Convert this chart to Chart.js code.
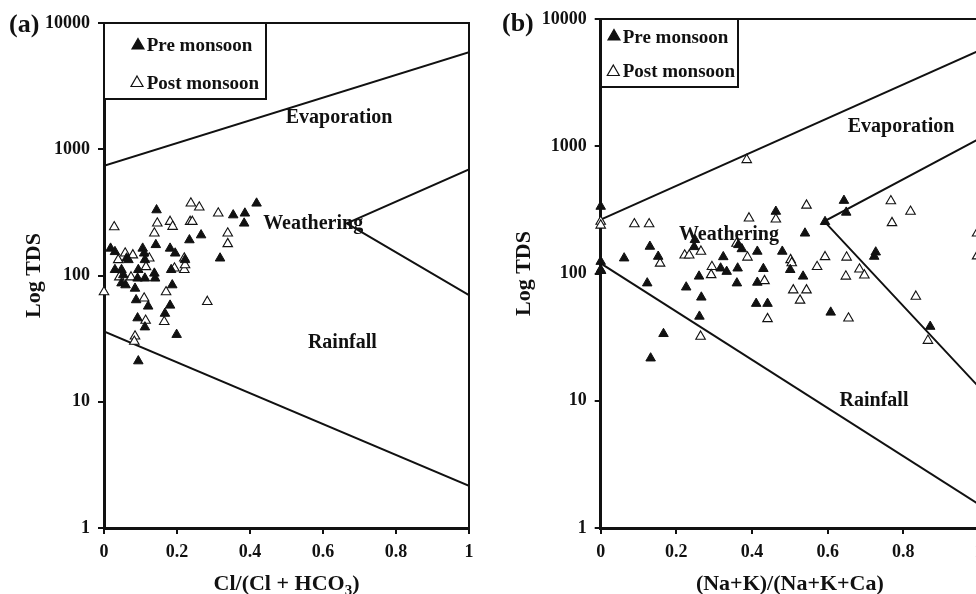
<!DOCTYPE html>
<html>
<head>
<meta charset="utf-8">
<title>Gibbs diagrams</title>
<script src="https://cdn.jsdelivr.net/npm/chart.js@4.4.1/dist/chart.umd.min.js"></script>
<style>
  html, body { margin: 0; padding: 0; background: #fff; overflow: hidden; width: 976px; height: 594px; }
  .panel { position: absolute; top: 0; }
  #wrapA { left: 0; }
  #wrapB { left: 490px; }
</style>
</head>
<body>
<div id="wrapA" class="panel"><canvas id="chartA" width="490" height="594"></canvas></div>
<div id="wrapB" class="panel"><canvas id="chartB" width="530" height="594"></canvas></div>
<script>
// --- DATA, [ratio, TDS] ---
const yTicks = [1, 10, 100, 1000, 10000];
const xTicks = [0, 0.2, 0.4, 0.6, 0.8, 1];
const seriesNames = ['Pre monsoon', 'Post monsoon'];
const regionNames = ['Evaporation', 'Weathering', 'Rainfall'];

// (a) Cl/(Cl + HCO3)
const preA = [[0.144,330],[0.142,175],[0.018,164],[0.030,154],[0.062,137],[0.067,133],[0.106,164],[0.110,150],
  [0.112,133],[0.030,111],[0.048,111],[0.094,111],[0.092,95],[0.112,95],[0.138,104],[0.140,95],[0.181,164],
  [0.195,150],[0.184,111],[0.187,84],[0.048,87],[0.059,84],[0.085,79],[0.088,64],[0.121,57],[0.181,58],
  [0.167,50],[0.092,46],[0.112,39],[0.199,34],[0.094,21],[0.234,191],[0.266,209],[0.222,133],[0.354,301],
  [0.386,311],[0.384,259],[0.418,373],[0.318,137],[0.053,101]];
const postA = [[0.238,373],[0.261,347],[0.028,242],[0.146,259],[0.138,216],[0.181,267],[0.188,244],[0.236,267],
  [0.242,267],[0.058,150],[0.079,145],[0.124,137],[0.039,133],[0.115,117],[0.193,114],[0.220,137],[0.220,111],
  [0.042,97],[0.074,97],[0.0,74],[0.170,74],[0.110,66],[0.165,43],[0.114,44],[0.085,33],[0.083,30],[0.283,62],
  [0.313,311],[0.339,216],[0.339,178],[0.222,121]];
const evapLineA = [[0,740],[1,5860]];
const weatherLineA = [[1,693],[0.665,259],[1,70]];
const rainLineA = [[0,36],[1,2.16]];
const regionPosA = [[0.644,1768],[0.573,256],[0.653,29.4]];

// (b) (Na+K)/(Na+K+Ca)
const preB = [[0,336],[0,124],[0,107],[0.062,132],[0.130,163],[0.152,136],[0.123,84],[0.226,78],[0.260,95],
  [0.266,65],[0.261,46],[0.166,33.6],[0.132,21.6],[0.249,184],[0.247,162],[0.324,135],[0.317,110],[0.333,103.5],
  [0.362,110],[0.360,84],[0.364,168],[0.373,156],[0.414,149],[0.430,109],[0.414,85],[0.480,149],[0.501,107],
  [0.535,95],[0.411,58],[0.441,58],[0.608,49.5],[0.463,307],[0.540,207],[0.643,374],[0.649,302],[0.593,255],
  [0.727,147],[0.723,136],[0.871,38.3]];
const postB = [[0,256],[0,239],[0,105],[0.089,245],[0.128,245],[0.157,120],[0.222,139],[0.234,139],[0.265,149],
  [0.294,113],[0.292,97.5],[0.264,32],[0.386,782],[0.392,272],[0.463,267],[0.544,343],[0.388,134],[0.359,172],
  [0.433,87.5],[0.502,128],[0.505,121],[0.572,113],[0.593,135],[0.509,74],[0.544,74],[0.527,61.5],[0.441,44],
  [0.767,371],[0.819,307],[0.770,250],[0.650,134],[0.684,108],[0.697,97],[0.648,95],[0.655,44.5],[0.833,66],
  [0.865,29.7],[0.995,207],[0.995,137]];
const evapLineB = [[0,265],[1,5650]];
const weatherLineB = [[1,1143],[0.591,257],[1,12.8]];
const rainLineB = [[0,120],[1,1.53]];
const regionPosB = [[0.794,1420],[0.339,201],[0.7225,10]];

const FONT = '"Liberation Serif", "Times New Roman", Times, serif';
const INK = '#111';

const toPts = arr => arr.map(p => ({ x: p[0], y: p[1] }));

// Teks region, legend kotak, bingkai atas/kanan dan judul sumbu x
const gibbsPlugin = {
  id: 'gibbs',
  beforeDatasetsDraw(chart, args, opts) {
    const ctx = chart.ctx, xs = chart.scales.x, ys = chart.scales.y;
    ctx.save();
    ctx.fillStyle = INK;
    ctx.font = 'bold 20px ' + FONT;
    ctx.textAlign = 'center';
    ctx.textBaseline = 'middle';
    opts.regions.forEach((r, i) => {
      ctx.fillText(regionNames[i], xs.getPixelForValue(r[0]), ys.getPixelForValue(r[1]));
    });
    ctx.restore();
  },
  afterDraw(chart, args, opts) {
    const ctx = chart.ctx, a = chart.chartArea;
    ctx.save();
    ctx.strokeStyle = INK;
    ctx.fillStyle = INK;

    // frame top + right
    ctx.lineWidth = 2;
    ctx.beginPath();
    ctx.moveTo(a.left, a.top);
    ctx.lineTo(a.right, a.top);
    ctx.lineTo(a.right, a.bottom);
    ctx.stroke();

    // legend box
    const L = opts.legend;
    ctx.fillStyle = '#fff';
    ctx.fillRect(L.box[0], L.box[1], L.box[2], L.box[3]);
    ctx.strokeRect(L.box[0], L.box[1], L.box[2], L.box[3]);
    L.rows.forEach((row, i) => {
      const [mx, my] = row.marker;
      ctx.beginPath();
      ctx.moveTo(mx, my - 5.5);
      ctx.lineTo(mx + 6, my + 5);
      ctx.lineTo(mx - 6, my + 5);
      ctx.closePath();
      ctx.lineWidth = 1.2;
      if (i === 0) { ctx.fillStyle = INK; ctx.fill(); }
      ctx.stroke();
      ctx.fillStyle = INK;
      ctx.font = 'bold 19px ' + FONT;
      ctx.textAlign = 'left';
      ctx.textBaseline = 'alphabetic';
      ctx.fillText(seriesNames[i], row.text[0], row.text[1]);
    });

    // panel label
    ctx.font = 'bold 26px ' + FONT;
    ctx.textAlign = 'left';
    ctx.fillText(opts.panel.text, opts.panel.x, opts.panel.y);

    // x title (with subscript part)
    const big = 'bold 22px ' + FONT, small = 'bold 15px ' + FONT;
    let total = 0;
    opts.xTitle.forEach(p => { ctx.font = p.sub ? small : big; total += ctx.measureText(p.t).width; });
    let x = (a.left + a.right) / 2 - total / 2;
    opts.xTitle.forEach(p => {
      ctx.font = p.sub ? small : big;
      ctx.fillText(p.t, x, opts.xTitleY + (p.sub ? 5 : 0));
      x += ctx.measureText(p.t).width;
    });
    ctx.restore();
  }
};

function makeGibbs(canvasId, cfg) {
  const tickFont = { family: FONT, size: 18, weight: 'bold' };
  return new Chart(document.getElementById(canvasId), {
    type: 'scatter',
    data: {
      datasets: [
        { label: seriesNames[0], data: toPts(cfg.pre), pointStyle: 'triangle', pointRadius: 5.5,
          backgroundColor: INK, borderColor: INK, borderWidth: 1, clip: false, order: 1 },
        { label: seriesNames[1], data: toPts(cfg.post), pointStyle: 'triangle', pointRadius: 5.5,
          backgroundColor: '#fff', borderColor: INK, borderWidth: 1.1, clip: false, order: 2 },
        ...cfg.lines.map(l => ({ data: toPts(l), showLine: true, pointRadius: 0, borderColor: INK,
          borderWidth: 2, fill: false, order: 3 }))
      ]
    },
    options: {
      responsive: false,
      animation: false,
      events: [],
      layout: { padding: cfg.padding },
      scales: {
        x: {
          type: 'linear', min: 0, max: 1,
          afterBuildTicks: s => { s.ticks = xTicks.map(v => ({ value: v })); },
          afterFit: s => { s.height = 66; },
          ticks: { font: tickFont, color: INK, padding: 8, maxRotation: 0, callback: v => String(v) },
          grid: { drawOnChartArea: false, drawTicks: true, tickLength: 6, color: INK, lineWidth: 2 },
          border: { display: true, color: INK, width: 3 }
        },
        y: {
          type: 'logarithmic', min: 1, max: 10000,
          afterBuildTicks: s => { s.ticks = yTicks.map(v => ({ value: v })); },
          afterFit: s => { s.width = cfg.yWidth; },
          ticks: { font: tickFont, color: INK, padding: 8, callback: v => String(v) },
          grid: { drawOnChartArea: false, drawTicks: true, tickLength: 6, color: INK, lineWidth: 2 },
          border: { display: true, color: INK, width: 3 },
          title: { display: true, text: 'Log TDS', color: INK,
            font: { family: FONT, size: 22, weight: 'bold' }, padding: { top: 21, bottom: 0 } }
        }
      },
      plugins: {
        legend: { display: false },
        tooltip: { enabled: false },
        gibbs: {
          regions: cfg.regions,
          legend: cfg.legend,
          panel: cfg.panel,
          xTitle: cfg.xTitle,
          xTitleY: 590
        }
      }
    },
    plugins: [gibbsPlugin]
  });
}

makeGibbs('chartA', {
  pre: preA, post: postA,
  lines: [evapLineA, weatherLineA, rainLineA],
  regions: regionPosA,
  padding: { top: 23, right: 21, bottom: 0, left: 0 },
  yWidth: 104,
  legend: { box: [104, 23, 162, 76], rows: [{ marker: [138, 44], text: [146.7, 50.7] }, { marker: [137, 81.5], text: [146.7, 89.3] }] },
  panel: { text: '(a)', x: 9, y: 32 },
  xTitle: [{ t: 'Cl/(Cl + HCO' }, { t: '3', sub: true }, { t: ')' }]
});

makeGibbs('chartB', {
  pre: preB, post: postB,
  lines: [evapLineB, weatherLineB, rainLineB],
  regions: regionPosB,
  padding: { top: 19, right: 41, bottom: 0, left: 0 },
  yWidth: 110.7,
  legend: { box: [111, 19, 137, 68], rows: [{ marker: [124, 35], text: [132.7, 42.7] }, { marker: [123.3, 70.5], text: [132.7, 77.3] }] },
  panel: { text: '(b)', x: 12, y: 30.5 },
  xTitle: [{ t: '(Na+K)/(Na+K+Ca)' }]
});
</script>
</body>
</html>
